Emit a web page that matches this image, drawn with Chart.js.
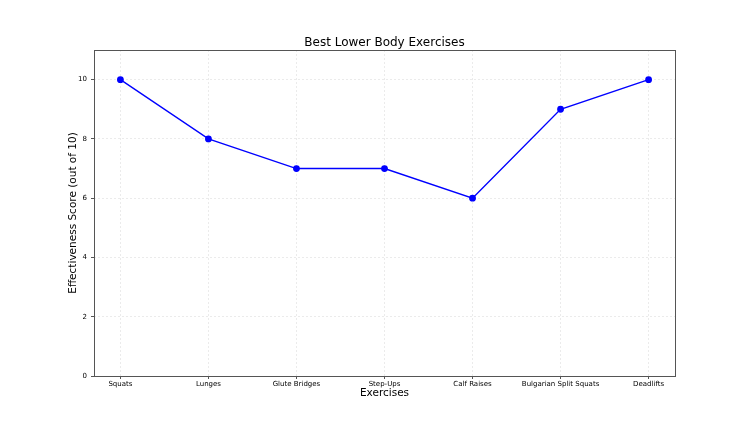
<!DOCTYPE html>
<html>
<head>
<meta charset="utf-8">
<script src="https://cdn.jsdelivr.net/npm/chart.js@4"></script>
<style>
  html, body { margin: 0; padding: 0; background: #fff; }
</style>
</head>
<body>
<canvas id="chart" width="750" height="422"></canvas>
<script>
const exercises = ['Squats', 'Lunges', 'Glute Bridges', 'Step-Ups', 'Calf Raises', 'Bulgarian Split Squats', 'Deadlifts'];
const scores = [10, 8, 7, 7, 6, 9, 10];
const yTicks = [0, 2, 4, 6, 8, 10];
const chartTitle = 'Best Lower Body Exercises';

const font = 'DejaVu Sans';

// matplotlib draws a box round the whole axes, and centres the title on it
const frame = {
  id: 'frame',
  afterDraw(chart) {
    const a = chart.chartArea;
    const ctx = chart.ctx;
    ctx.save();
    ctx.strokeStyle = '#555';
    ctx.lineWidth = 1;
    ctx.strokeRect(a.left + 0.5, a.top + 0.5, a.right - a.left, a.bottom - a.top);
    ctx.fillStyle = '#000';
    ctx.font = '12px "' + font + '"';
    ctx.textAlign = 'center';
    ctx.textBaseline = 'middle';
    ctx.fillText(chartTitle, (a.left + a.right) / 2, 43);
    ctx.restore();
  }
};

new Chart(document.getElementById('chart').getContext('2d'), {
  type: 'line',
  data: {
    datasets: [{
      data: scores.map((v, i) => ({ x: i, y: v })),
      borderColor: '#0000ff',
      backgroundColor: '#0000ff',
      borderWidth: 1.4,
      pointRadius: 2.7,
      pointHoverRadius: 2.7,
      tension: 0
    }]
  },
  plugins: [frame],
  options: {
    responsive: false,
    animation: false,
    layout: { padding: { left: 67, right: 75, top: 50, bottom: 22 } },
    plugins: {
      legend: { display: false },
      tooltip: { enabled: false }
    },
    scales: {
      x: {
        type: 'linear',
        min: -0.3,
        max: 6.3,
        afterBuildTicks: s => { s.ticks = exercises.map((_, i) => ({ value: i })); },
        afterFit: s => { s.height = 24; },
        ticks: {
          autoSkip: false,
          maxRotation: 0,
          color: '#000',
          font: { family: font, size: 7 },
          padding: 1,
          callback: v => exercises[v]
        },
        grid: {
          color: 'rgba(0,0,0,0.08)',
          tickColor: '#555',
          tickLength: 3
        },
        border: { display: false, dash: [2, 2] },
        title: {
          display: true,
          text: 'Exercises',
          color: '#000',
          font: { family: font, size: 10.5 },
          padding: { top: 0, bottom: 0 }
        }
      },
      y: {
        min: 0,
        max: 11,
        afterBuildTicks: s => { s.ticks = yTicks.map(v => ({ value: v })); },
        afterFit: s => { s.width = 27; },
        ticks: {
          color: '#000',
          font: { family: font, size: 7 },
          padding: 4
        },
        grid: {
          color: 'rgba(0,0,0,0.08)',
          tickColor: '#555',
          tickLength: 3
        },
        border: { display: false, dash: [2, 2] },
        title: {
          display: true,
          text: 'Effectiveness Score (out of 10)',
          color: '#000',
          font: { family: font, size: 10.5 },
          padding: { top: 0, bottom: 0 }
        }
      }
    }
  }
});
</script>
</body>
</html>
